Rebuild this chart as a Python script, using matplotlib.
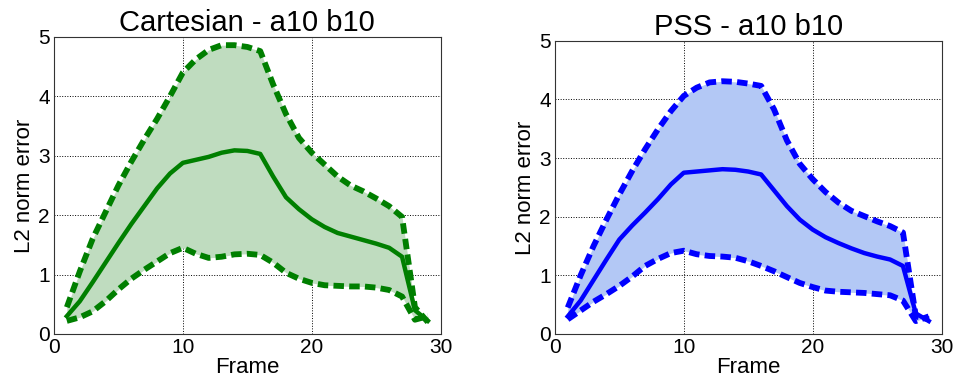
import matplotlib
matplotlib.use("Agg")
import matplotlib.pyplot as plt

plt.rcParams['font.family'] = ['Liberation Sans', 'DejaVu Sans']

frames = list(range(1, 30))

# Cartesian - a10 b10
cart_mean = [0.30, 0.55, 0.87, 1.20, 1.53, 1.85, 2.15, 2.45, 2.70, 2.88,
             2.93, 2.98, 3.05, 3.09, 3.08, 3.03, 2.65, 2.30, 2.10, 1.93,
             1.80, 1.70, 1.64, 1.58, 1.52, 1.45, 1.30, 0.40, 0.22]
cart_upper = [0.45, 1.05, 1.60, 2.05, 2.50, 2.90, 3.27, 3.62, 4.00, 4.40,
              4.62, 4.78, 4.86, 4.86, 4.83, 4.76, 4.20, 3.70, 3.30, 3.05,
              2.85, 2.65, 2.50, 2.40, 2.28, 2.15, 1.97, 0.45, 0.20]
cart_lower = [0.22, 0.28, 0.38, 0.55, 0.75, 0.93, 1.08, 1.22, 1.36, 1.45,
              1.35, 1.28, 1.30, 1.34, 1.35, 1.33, 1.20, 1.03, 0.93, 0.86,
              0.82, 0.81, 0.80, 0.80, 0.78, 0.74, 0.63, 0.24, 0.30]

# PSS - a10 b10
pss_mean = [0.30, 0.57, 0.92, 1.27, 1.61, 1.85, 2.07, 2.30, 2.55, 2.75,
            2.77, 2.79, 2.81, 2.80, 2.77, 2.72, 2.45, 2.18, 1.95, 1.78,
            1.65, 1.55, 1.46, 1.38, 1.32, 1.27, 1.16, 0.35, 0.22]
pss_upper = [0.45, 1.00, 1.50, 1.95, 2.38, 2.78, 3.15, 3.49, 3.80, 4.06,
             4.20, 4.29, 4.31, 4.30, 4.27, 4.23, 3.83, 3.30, 2.90, 2.64,
             2.42, 2.24, 2.10, 2.01, 1.92, 1.84, 1.73, 0.30, 0.25]
pss_lower = [0.25, 0.40, 0.55, 0.68, 0.82, 0.98, 1.16, 1.28, 1.38, 1.42,
             1.36, 1.33, 1.32, 1.30, 1.24, 1.16, 1.07, 0.97, 0.87, 0.80,
             0.74, 0.72, 0.71, 0.70, 0.68, 0.66, 0.57, 0.22, 0.30]

titles = ['Cartesian - a10 b10', 'PSS - a10 b10']
line_colors = ['#007f00', '#0000ff']
fill_colors = ['#bfdcbf', '#b3c8f5']


def draw_panel(ax, mean, upper, lower, title, color, fill):
    ax.fill_between(frames, lower, upper, color=fill, lw=0, zorder=1)
    ax.plot(frames, upper, '--', color=color, lw=4.2, dashes=(1.8, 0.9), zorder=3)
    ax.plot(frames, lower, '--', color=color, lw=4.2, dashes=(1.8, 0.9), zorder=3)
    ax.plot(frames, mean, '-', color=color, lw=3.2, zorder=4)
    ax.set_xlim(0, 30)
    ax.set_ylim(0, 5)
    ax.set_xticks([0, 10, 20, 30])
    ax.set_yticks([0, 1, 2, 3, 4, 5])
    ax.grid(True, color='black', linestyle=':', linewidth=0.7, zorder=0)
    ax.set_axisbelow(True)
    ax.tick_params(length=0, labelsize=15, pad=3)
    ax.set_xlabel('Frame', fontsize=16, labelpad=0)
    ax.set_ylabel('L2 norm error', fontsize=16, labelpad=2)
    ax.set_title(title, fontsize=21, pad=4)
    for s in ax.spines.values():
        s.set_color('#333333')
        s.set_linewidth(0.8)


fig = plt.figure(figsize=(9.55, 3.92), dpi=100)
ax1 = fig.add_axes([0.0565, 0.148, 0.405, 0.758])
ax2 = fig.add_axes([0.581, 0.148, 0.405, 0.748])

draw_panel(ax1, cart_mean, cart_upper, cart_lower, titles[0], line_colors[0], fill_colors[0])
draw_panel(ax2, pss_mean, pss_upper, pss_lower, titles[1], line_colors[1], fill_colors[1])

fig.savefig('out.png', dpi=100)
